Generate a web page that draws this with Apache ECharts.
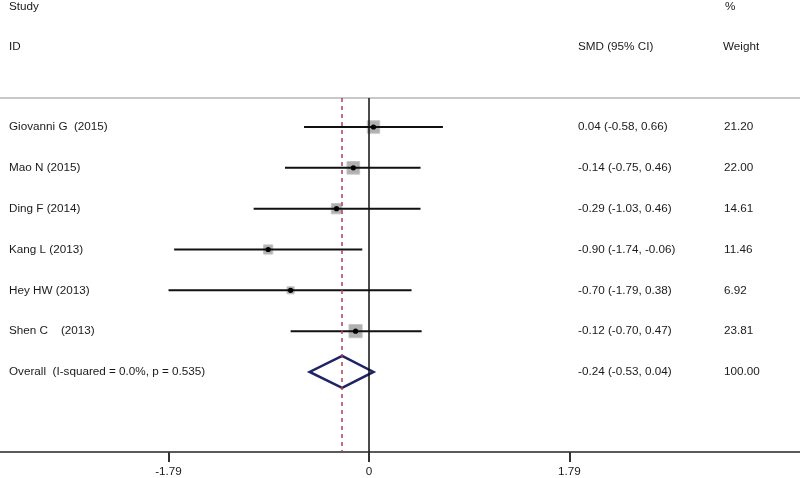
<!DOCTYPE html>
<html>
<head>
<meta charset="utf-8">
<script src="https://cdn.jsdelivr.net/npm/echarts@6/dist/echarts.min.js"></script>
<style>html,body{margin:0;padding:0;background:#fff}#c{width:800px;height:478px}</style>
</head>
<body>
<div id="c"></div>
<script>
var studies = ['Giovanni G  (2015)', 'Mao N (2015)', 'Ding F (2014)', 'Kang L (2013)', 'Hey HW (2013)', 'Shen C    (2013)'];
var smd = [0.04, -0.14, -0.29, -0.90, -0.70, -0.12];
var lower = [-0.58, -0.75, -1.03, -1.74, -1.79, -0.70];
var upper = [0.66, 0.46, 0.46, -0.06, 0.38, 0.47];
var weights = [21.20, 22.00, 14.61, 11.46, 6.92, 23.81];
var overallLabel = 'Overall  (I-squared = 0.0%, p = 0.535)';
var overallSmd = -0.24, overallLower = -0.53, overallUpper = 0.04, overallWeight = 100.00;
var tickValues = [-1.79, 0, 1.79];

var FAMILY = '"Liberation Sans", Arial, sans-serif';
var FONT = '11.7px ' + FAMILY;
var TXT = '#1a1a1a';
function fmt(v){ return v.toFixed(2); }

var studyData = studies.map(function(s, i){ return [smd[i], lower[i], upper[i], weights[i], i + 1]; });
var textRows = studies.map(function(s, i){
  return [0, i + 1, s, fmt(smd[i]) + ' (' + fmt(lower[i]) + ', ' + fmt(upper[i]) + ')', fmt(weights[i])];
});
var overallRow = studies.length + 1;
textRows.push([0, overallRow, overallLabel, fmt(overallSmd) + ' (' + fmt(overallLower) + ', ' + fmt(overallUpper) + ')', fmt(overallWeight)]);

var chart = echarts.init(document.getElementById('c'), null, {renderer: 'canvas'});
chart.setOption({
  animation: false,
  backgroundColor: '#fff',
  grid: {left: 0, right: 0, top: 98, bottom: 26},
  xAxis: {
    type: 'value', min: -369 / 112, max: 431 / 112,
    splitLine: {show: false},
    axisLine: {show: true, onZero: false, lineStyle: {color: '#5a5a5a', width: 2}},
    axisTick: {show: true, customValues: tickValues, length: 10, lineStyle: {color: '#333', width: 2}},
    axisLabel: {show: true, customValues: tickValues, formatter: function(v){ return v === 0 ? '0' : v.toFixed(2); },
      fontSize: 11.7, fontFamily: FAMILY, color: TXT, margin: 14}
  },
  yAxis: {type: 'value', inverse: true, min: 0.29, max: 8.96, show: false},
  graphic: [
    {type: 'line', shape: {x1: 0, y1: 98, x2: 800, y2: 98}, style: {stroke: '#c8c8c8', lineWidth: 2}, z: 1},
    {type: 'text', x: 9, y: 7, style: {text: 'Study', font: FONT, fill: TXT, verticalAlign: 'middle'}},
    {type: 'text', x: 9, y: 47, style: {text: 'ID', font: FONT, fill: TXT, verticalAlign: 'middle'}},
    {type: 'text', x: 578, y: 47, style: {text: 'SMD (95% CI)', font: FONT, fill: TXT, verticalAlign: 'middle'}},
    {type: 'text', x: 725, y: 7, style: {text: '%', font: FONT, fill: TXT, verticalAlign: 'middle'}},
    {type: 'text', x: 723, y: 47, style: {text: 'Weight', font: FONT, fill: TXT, verticalAlign: 'middle'}}
  ],
  series: [
    {
      type: 'line', data: [], silent: true,
      markLine: {
        symbol: 'none', silent: true, label: {show: false},
        data: [
          {xAxis: 0, lineStyle: {color: '#111', width: 1.5, type: 'solid'}},
          {xAxis: overallSmd, lineStyle: {color: '#b04058', width: 1.5, type: [4, 4]}}
        ]
      }
    },
    {
      type: 'custom', data: studyData, z: 3,
      renderItem: function(params, api){
        var y = api.value(4);
        var p0 = api.coord([api.value(1), y]);
        var p1 = api.coord([api.value(2), y]);
        var pc = api.coord([api.value(0), y]);
        var side = Math.sqrt(api.value(3)) * 2.7;
        return {type: 'group', children: [
          {type: 'rect', shape: {x: pc[0] - side / 2, y: pc[1] - side / 2, width: side, height: side},
            style: {fill: '#b0b0b0', stroke: '#c4c4c4', lineWidth: 1}},
          {type: 'line', shape: {x1: p0[0], y1: p0[1], x2: p1[0], y2: p1[1]}, style: {stroke: '#111', lineWidth: 2}},
          {type: 'circle', shape: {cx: pc[0], cy: pc[1], r: 2.6}, style: {fill: '#000'}}
        ]};
      }
    },
    {
      type: 'custom', data: [[overallSmd, overallLower, overallUpper, overallRow]], z: 4,
      renderItem: function(params, api){
        var y = api.value(3);
        var l = api.coord([api.value(1), y]);
        var r = api.coord([api.value(2), y]);
        var c = api.coord([api.value(0), y]);
        var h = 16;
        return {type: 'polygon', shape: {points: [[c[0], c[1] - h], [r[0], r[1]], [c[0], c[1] + h], [l[0], l[1]]]},
          style: {fill: 'rgba(255,255,255,0)', stroke: '#1e2466', lineWidth: 2.5}};
      }
    },
    {
      type: 'custom', data: textRows, z: 5,
      renderItem: function(params, api){
        var row = textRows[params.dataIndex];
        var y = api.coord([0, row[1]])[1];
        return {type: 'group', children: [
          {type: 'text', x: 9, y: y, style: {text: row[2], font: FONT, fill: TXT, verticalAlign: 'middle'}},
          {type: 'text', x: 578, y: y, style: {text: row[3], font: FONT, fill: TXT, verticalAlign: 'middle'}},
          {type: 'text', x: 724, y: y, style: {text: row[4], font: FONT, fill: TXT, verticalAlign: 'middle'}}
        ]};
      }
    }
  ]
});
</script>
</body>
</html>
